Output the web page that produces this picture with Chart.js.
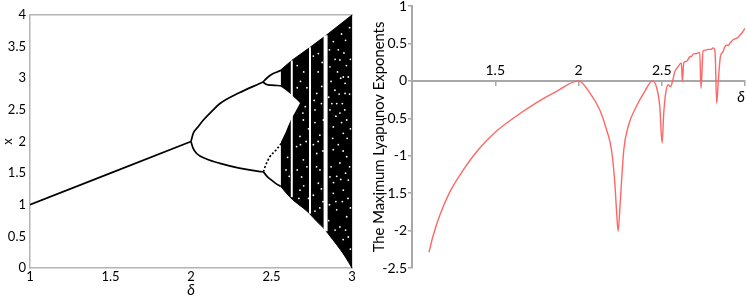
<!DOCTYPE html>
<html><head><meta charset="utf-8">
<script src="https://cdn.jsdelivr.net/npm/chart.js@4.4.1/dist/chart.umd.min.js"></script>
<style>
html,body{margin:0;padding:0;background:#fff;}
#wrap{position:relative;width:747px;height:299px;overflow:hidden;background:#fff;}
#c1{position:absolute;left:0;top:0;}
#c2{position:absolute;left:370px;top:0;}
</style></head><body>
<div id="wrap">
<canvas id="c1" width="370" height="299"></canvas>
<canvas id="c2" width="377" height="299"></canvas>
</div>
<script>
// ---------- LEFT PANEL: bifurcation diagram (delta, x) ----------
const leftXTicks = [1, 1.5, 2, 2.5, 3];
const leftXTickLabels = ['1', '1.5', '2', '2.5', '3'];
const leftYTicks = [0, 0.5, 1, 1.5, 2, 2.5, 3, 3.5, 4];
const leftYTickLabels = ['0', '0.5', '1', '1.5', '2', '2.5', '3', '3.5', '4'];

const period1 = [[1, 1], [1.5, 1.5], [2, 2]];
const period2Upper = [[2, 2], [2.014, 2.13], [2.04, 2.22], [2.077, 2.34], [2.13, 2.48], [2.18, 2.6], [2.3, 2.77], [2.43, 2.92], [2.447, 2.94]];
const period2Lower = [[2, 2], [2.012, 1.9], [2.035, 1.81], [2.1, 1.72], [2.18, 1.655], [2.3, 1.58], [2.43, 1.525], [2.45, 1.52]];
const period4UpperTop = [[2.447, 2.94], [2.47, 3.0], [2.5, 3.06], [2.535, 3.1], [2.565, 3.13]];
const period4UpperBottom = [[2.447, 2.94], [2.47, 2.9], [2.5, 2.89], [2.535, 2.885], [2.56, 2.88]];
const period4LowerTop = [[2.45, 1.52], [2.46, 1.6], [2.49, 1.76], [2.53, 1.87], [2.56, 1.97]];
const period4LowerBottom = [[2.45, 1.52], [2.475, 1.44], [2.5, 1.39], [2.53, 1.33], [2.557, 1.29]];

const chaosUpper = [[2.557, 3.13], [2.625, 3.28], [2.74, 3.49], [2.84, 3.68], [3.0, 4.0]];
const chaosLower = [[2.557, 1.29], [2.615, 1.12], [2.68, 0.98], [2.72, 0.9], [2.78, 0.74], [2.82, 0.64], [2.88, 0.45], [2.925, 0.3], [2.96, 0.17], [3.0, 0.0]];
const gapTop = [[2.55, 2.88], [2.6, 2.79], [2.64, 2.7], [2.677, 2.61]];
const gapBottom = [[2.55, 1.95], [2.59, 2.16], [2.62, 2.34], [2.65, 2.48], [2.677, 2.61]];

const window1 = [[2.626, 1.12], [2.626, 3.28]];
const window2 = [[2.739, 0.86], [2.739, 3.49]];
const window3 = [[2.836, 0.58], [2.836, 3.68]];

const speckles = [
  [2.791, 3.39], [2.884, 3.58], [2.915, 3.45], [2.925, 3.29], [2.946, 3.02], [2.977, 3.02],
  [2.863, 3.18], [2.894, 2.81], [2.957, 2.76], [2.905, 2.6], [2.863, 2.5], [2.925, 2.45],
  [2.967, 2.34], [2.812, 2.87], [2.781, 2.76], [2.77, 2.5], [2.822, 2.34], [2.884, 2.23],
  [2.946, 2.13], [2.698, 2.34], [2.677, 2.08], [2.957, 2.92], [2.656, 1.92], [2.698, 1.71],
  [2.687, 1.44], [2.781, 1.81], [2.801, 1.55], [2.791, 1.34], [2.884, 1.87], [2.925, 1.66],
  [2.967, 1.76], [2.884, 1.18], [2.946, 1.23], [2.905, 0.92], [2.967, 0.81], [2.925, 0.65],
  [2.977, 0.49], [2.863, 1.44], [2.677, 1.23], [2.977, 1.39], [2.6, 1.75], [2.59, 1.55], [2.61, 1.45],
  [2.66, 3.2], [2.68, 2.95], [2.70, 3.1], [2.72, 2.85], [2.66, 2.85], [2.71, 2.55], [2.73, 2.2],
  [2.68, 1.95], [2.72, 1.6], [2.66, 1.55], [2.70, 1.3], [2.73, 1.1], [2.67, 1.1], [2.715, 2.0], [2.695, 2.45],
  [2.76, 3.35], [2.79, 3.1], [2.81, 2.6], [2.77, 2.3], [2.80, 2.1], [2.76, 1.95], [2.82, 1.85], [2.78, 1.6],
  [2.81, 1.25], [2.76, 1.15], [2.8, 0.95], [2.77, 0.9], [2.82, 1.05], [2.79, 2.0], [2.815, 3.25], [2.765, 2.65],
  [2.86, 3.45], [2.87, 2.95], [2.855, 2.7], [2.88, 2.05], [2.87, 1.6], [2.86, 1.0], [2.855, 0.75], [2.895, 3.3],
  [2.91, 3.1], [2.9, 2.4], [2.915, 1.95], [2.905, 1.45], [2.9, 1.05], [2.895, 0.6], [2.935, 3.7], [2.93, 3.0],
  [2.94, 2.6], [2.935, 2.3], [2.945, 1.85], [2.93, 1.4], [2.94, 1.05], [2.945, 0.45], [2.96, 3.6], [2.965, 3.2],
  [2.955, 2.5], [2.97, 2.05], [2.96, 1.5], [2.975, 1.1], [2.96, 0.6], [2.985, 3.8], [2.99, 3.3], [2.985, 2.75],
  [2.99, 2.2], [2.985, 1.6], [2.99, 0.95], [2.99, 0.3], [2.875, 2.6], [2.885, 1.35], [2.92, 2.75], [2.95, 3.4]
];

// ---------- RIGHT PANEL: maximum Lyapunov exponent ----------
const rightXTicks = [1, 1.5, 2, 2.5, 3];
const rightXTickLabels = ['', '1.5', '2', '2.5', ''];
const rightYTicks = [-2.5, -2, -1.5, -1, -0.5, 0, 0.5, 1];
const rightYTickLabels = ['-2.5', '-2', '-1.5', '-1', '-0.5', '0', '0.5', '1'];
const lyapunov = [
  [1.102, -2.29], [1.128, -2.06], [1.168, -1.79], [1.228, -1.48], [1.308, -1.19], [1.398, -0.92],
  [1.498, -0.69], [1.608, -0.5], [1.748, -0.29], [1.868, -0.14], [2.0, 0],
  [2.068, -0.16], [2.128, -0.39], [2.168, -0.65], [2.198, -0.92], [2.218, -1.36], [2.228, -1.72],
  [2.238, -2.01], [2.248, -1.72], [2.258, -1.36], [2.272, -0.92], [2.298, -0.61], [2.348, -0.34],
  [2.398, -0.14], [2.444, 0],
  [2.468, -0.08], [2.488, -0.34], [2.502, -0.83], [2.512, -0.43], [2.524, -0.16], [2.538, -0.05],
  [2.552, -0.08], [2.564, -0.01], [2.578, 0.12], [2.598, 0.19], [2.618, 0.24], [2.624, -0.01],
  [2.632, 0.24], [2.648, 0.26], [2.668, 0.32], [2.68, 0.33], [2.69, 0.36], [2.70, 0.36], [2.715, 0.37],
  [2.728, 0.38], [2.736, -0.1], [2.748, 0.4], [2.76, 0.41], [2.778, 0.42], [2.795, 0.42], [2.808, 0.44],
  [2.82, 0.39], [2.83, -0.3], [2.84, 0.01], [2.852, 0.32], [2.868, 0.39], [2.878, 0.45], [2.888, 0.48],
  [2.9, 0.47], [2.908, 0.5], [2.92, 0.53], [2.928, 0.55], [2.94, 0.56], [2.948, 0.57], [2.958, 0.58],
  [2.968, 0.61], [2.978, 0.63], [2.988, 0.66], [3.0, 0.7]
];

// ---------- helpers ----------
const pts = arr => arr.map(p => ({x: p[0], y: p[1]}));
const FONT = 'Lato, "DejaVu Sans", sans-serif';
const frameGray = '#b4b4b4';
const axisGray = '#a8a8a8';

function fixedTicks(values) {
  return function (scale) { scale.ticks = values.map(v => ({value: v})); };
}
function labelFrom(values, labels) {
  return function (v) { const i = values.indexOf(v); return i >= 0 ? labels[i] : ''; };
}

// ---------- left chart ----------
const L = [];
function addL(ds) { L.push(ds); return L.length - 1; }
const blackLine = (data, extra) => Object.assign({data: pts(data), borderColor: '#000', borderWidth: 1.7, pointRadius: 0, fill: false, order: 1, cubicInterpolationMode: 'monotone'}, extra || {});

addL(blackLine(period1, {cubicInterpolationMode: 'default'}));
addL(blackLine(period2Upper));
addL(blackLine(period2Lower));
addL(blackLine(period4UpperTop));
addL(blackLine(period4UpperBottom));
addL(blackLine(period4LowerTop, {borderDash: [2, 2]}));
addL(blackLine(period4LowerBottom));
addL({data: pts(speckles), showLine: false, pointRadius: 0.9, pointBackgroundColor: '#fff', pointBorderWidth: 0, borderColor: '#fff', order: 2});
addL({data: pts(window1), borderColor: '#fff', borderWidth: 2, pointRadius: 0, fill: false, order: 3});
addL({data: pts(window2), borderColor: '#fff', borderWidth: 2, pointRadius: 0, fill: false, order: 3});
addL({data: pts(window3), borderColor: '#fff', borderWidth: 4, pointRadius: 0, fill: false, order: 3});
const gapTopIdx = addL({data: pts(gapTop), borderColor: '#fff', borderWidth: 0, pointRadius: 0, backgroundColor: '#fff', order: 4, cubicInterpolationMode: 'monotone'});
const gapBottomIdx = addL({data: pts(gapBottom), borderColor: '#fff', borderWidth: 0, pointRadius: 0, fill: false, order: 4, cubicInterpolationMode: 'monotone'});
L[gapTopIdx].fill = gapBottomIdx;
const chaosUpperIdx = addL({data: pts(chaosUpper), borderColor: '#000', borderWidth: 1, pointRadius: 0, backgroundColor: '#000', order: 5});
const chaosLowerIdx = addL({data: pts(chaosLower), borderColor: '#000', borderWidth: 1, pointRadius: 0, fill: false, order: 5, cubicInterpolationMode: 'monotone'});
L[chaosUpperIdx].fill = chaosLowerIdx;

new Chart(document.getElementById('c1'), {
  type: 'line',
  data: {datasets: L},
  options: {
    responsive: false, animation: false, events: [],
    layout: {padding: {left: 0, right: 18, top: 15, bottom: 0}},
    plugins: {legend: {display: false}, tooltip: {enabled: false}},
    scales: {
      x: {
        type: 'linear', position: 'bottom', min: 1, max: 3,
        afterBuildTicks: fixedTicks(leftXTicks),
        ticks: {callback: labelFrom(leftXTicks, leftXTickLabels), color: '#000', font: {family: FONT, size: 13}, padding: 1, maxRotation: 0, autoSkip: false},
        grid: {display: false, drawTicks: false},
        border: {display: true, color: frameGray, width: 1.5},
        title: {display: true, text: 'δ', color: '#000', font: {family: FONT, size: 15, style: 'italic'}, padding: 0},
        afterFit(s) { s.height = 31; s.paddingLeft = 0; s.paddingRight = 0; }
      },
      y: {
        type: 'linear', position: 'left', min: 0, max: 4,
        afterBuildTicks: fixedTicks(leftYTicks),
        ticks: {callback: labelFrom(leftYTicks, leftYTickLabels), color: '#000', font: {family: FONT, size: 13}, padding: 4, autoSkip: false},
        grid: {display: false, drawTicks: false},
        border: {display: true, color: frameGray, width: 1.5},
        title: {display: true, text: 'x', color: '#000', font: {family: FONT, size: 13}, padding: 0},
        afterFit(s) { s.width = 30; s.paddingTop = 0; s.paddingBottom = 0; }
      },
      xTop: {
        type: 'linear', position: 'top', min: 1, max: 3, display: true,
        ticks: {display: false}, grid: {display: false, drawTicks: false},
        border: {display: true, color: frameGray, width: 1.5},
        afterFit(s) { s.height = 0; s.paddingLeft = 0; s.paddingRight = 0; }
      },
      yRight: {
        type: 'linear', position: 'right', min: 0, max: 4, display: true,
        ticks: {display: false}, grid: {display: false, drawTicks: false},
        border: {display: true, color: frameGray, width: 1.5},
        afterFit(s) { s.width = 0; s.paddingTop = 0; s.paddingBottom = 0; }
      }
    }
  }
});

// ---------- right chart ----------
new Chart(document.getElementById('c2'), {
  type: 'line',
  data: {datasets: [{
    data: pts(lyapunov), borderColor: 'rgba(255,95,95,0.95)', borderWidth: 1.4, pointRadius: 0, fill: false,
    cubicInterpolationMode: 'monotone'
  }]},
  options: {
    responsive: false, animation: false, events: [],
    layout: {padding: {left: 0, right: 2, top: 6, bottom: 31}},
    plugins: {legend: {display: false}, tooltip: {enabled: false}},
    scales: {
      x: {
        type: 'linear', position: {y: 0}, min: 1, max: 3,
        afterBuildTicks: fixedTicks(rightXTicks),
        ticks: {callback: labelFrom(rightXTicks, rightXTickLabels), color: '#000', font: {family: FONT, size: 14}, padding: -23, maxRotation: 0, autoSkip: false},
        grid: {display: true, drawOnChartArea: false, drawTicks: true, tickLength: 4, color: axisGray, lineWidth: 1.5},
        border: {display: true, color: axisGray, width: 2},
        title: {display: true, text: 'δ', align: 'end', color: '#000', font: {family: FONT, size: 15, style: 'italic'}, padding: 0},
        afterFit(s) { s.height = 25; s.paddingLeft = 0; s.paddingRight = 0; }
      },
      y: {
        type: 'linear', position: 'left', min: -2.5, max: 1,
        afterBuildTicks: fixedTicks(rightYTicks),
        ticks: {callback: labelFrom(rightYTicks, rightYTickLabels), color: '#000', font: {family: FONT, size: 14}, padding: 1, autoSkip: false},
        grid: {display: true, drawOnChartArea: false, drawTicks: true, tickLength: 4, color: axisGray, lineWidth: 1.5},
        border: {display: true, color: axisGray, width: 2},
        title: {display: true, text: 'The Maximum Lyapunov Exponents', color: '#000', font: {family: FONT, size: 14.8}, padding: 0},
        afterFit(s) { s.width = 42; s.paddingTop = 0; s.paddingBottom = 0; }
      }
    }
  }
});
</script>
</body></html>
